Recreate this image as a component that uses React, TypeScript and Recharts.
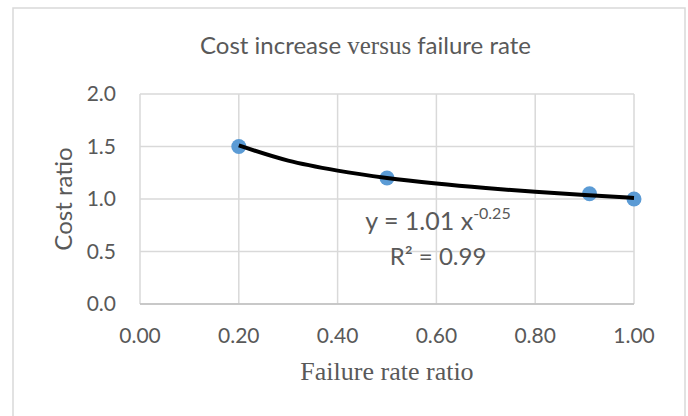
import React from 'react';
import { ScatterChart, Scatter, XAxis, YAxis, CartesianGrid } from 'recharts';

// Observed points
const failureRateRatio = [0.2, 0.5, 0.91, 1.0];
const costRatio = [1.5, 1.2, 1.05, 1.0];

// Power trendline (y = 1.01 x^-0.25)
const trendX = [0.2, 0.3, 0.4, 0.5, 0.6, 0.7, 0.8, 0.9, 1.0];
const trendY = [1.51, 1.365, 1.27, 1.2, 1.147, 1.104, 1.068, 1.037, 1.01];

const xTicks = [0, 0.2, 0.4, 0.6, 0.8, 1.0];
const yTicks = [0, 0.5, 1.0, 1.5, 2.0];

const titleParts = ['Cost increase ', 'versus', ' failure rate'];
const xLabel = 'Failure rate ratio';
const yLabel = 'Cost ratio';
const equationMain = 'y = 1.01 x';
const equationExp = '-0.25';
const rSquared = 'R² = 0.99';

const points = failureRateRatio.map((x, i) => ({ x, y: costRatio[i] }));
const trend = trendX.map((x, i) => ({ x, y: trendY[i] }));

const SANS = 'Lato, "Open Sans", sans-serif';
const SERIF = '"Liberation Serif", "Times New Roman", serif';
const GRAY = '#595959';

const Dot = (props: any) => {
  const { cx, cy } = props;
  if (cx == null || cy == null) return null;
  return <circle cx={cx} cy={cy} r={7.5} fill="#5B9BD5" />;
};

const NoDot = () => null;

export default function App() {
  return (
    <div style={{ position: 'absolute', left: 0, top: 0, width: 688, height: 416, background: '#fff' }}>
      <ScatterChart
        width={688}
        height={416}
        margin={{ top: 94, right: 54, bottom: 0, left: 0 }}
      >
        <CartesianGrid stroke="#D9D9D9" strokeWidth={1.5} />
        <XAxis
          type="number"
          dataKey="x"
          domain={[0, 1]}
          ticks={xTicks}
          tickFormatter={(v: number) => v.toFixed(2)}
          height={112}
          tickSize={0}
          tickMargin={24}
          axisLine={{ stroke: '#BFBFBF', strokeWidth: 1.5 }}
          tick={{ fill: GRAY, fontSize: 21, fontFamily: SANS }}
        />
        <YAxis
          type="number"
          dataKey="y"
          domain={[0, 2]}
          ticks={yTicks}
          tickFormatter={(v: number) => v.toFixed(1)}
          width={140}
          tickSize={0}
          tickMargin={24}
          axisLine={false}
          tick={{ fill: GRAY, fontSize: 21, fontFamily: SANS }}
        />
        <Scatter data={points} shape={<Dot />} isAnimationActive={false} />
        <Scatter
          data={trend}
          shape={<NoDot />}
          line={{ stroke: '#000000', strokeWidth: 4 }}
          lineJointType="monotoneX"
          isAnimationActive={false}
        />
      </ScatterChart>
      <svg
        width={688}
        height={416}
        style={{ position: 'absolute', left: 0, top: 0, pointerEvents: 'none' }}
      >
        <rect x={13} y={8} width={672} height={430} fill="none" stroke="#D9D9D9" strokeWidth={1.5} />
        <text x={365.5} y={54} textAnchor="middle" fill={GRAY} fontSize={24} fontFamily={SANS}>
          <tspan>{titleParts[0]}</tspan>
          <tspan fontFamily={SERIF} fontSize={25}>{titleParts[1]}</tspan>
          <tspan>{titleParts[2]}</tspan>
        </text>
        <text
          x={72}
          y={199}
          textAnchor="middle"
          fill={GRAY}
          fontSize={24}
          fontFamily={SANS}
          transform="rotate(-90 72 199)"
        >
          {yLabel}
        </text>
        <text x={387} y={380} textAnchor="middle" fill={GRAY} fontSize={26} fontFamily={SERIF}>
          {xLabel}
        </text>
        <text x={438} y={230} textAnchor="middle" fill={GRAY} fontSize={25} fontFamily={SANS}>
          <tspan>{equationMain}</tspan>
          <tspan fontSize={16} dy={-11}>{equationExp}</tspan>
        </text>
        <text x={438} y={265} textAnchor="middle" fill={GRAY} fontSize={24} fontFamily={SANS}>
          {rSquared}
        </text>
      </svg>
    </div>
  );
}
